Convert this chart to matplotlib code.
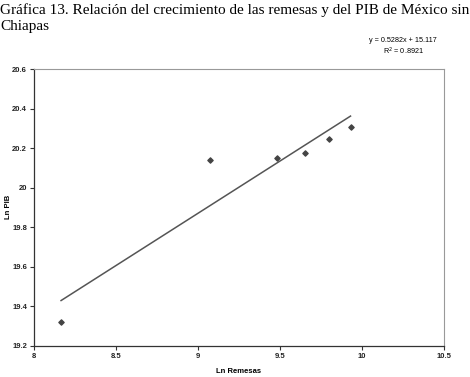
import matplotlib
matplotlib.use("Agg")
import matplotlib.pyplot as plt
import numpy as np
from matplotlib.ticker import FuncFormatter

ln_remesas = [8.165, 9.073, 9.48, 9.65, 9.80, 9.93]
ln_pib = [19.32, 20.14, 20.148, 20.177, 20.246, 20.305]
slope, intercept = 0.5282, 15.117
x_ticks = [8, 8.5, 9, 9.5, 10, 10.5]
y_ticks = [19.2, 19.4, 19.6, 19.8, 20, 20.2, 20.4, 20.6]

fig = plt.figure(figsize=(4.7, 3.77), dpi=100)
ax = fig.add_axes([34/470, 31/377, 410/470, 277/377])

ax.scatter(ln_remesas, ln_pib, marker='D', s=7, color='#444444', zorder=3)
xl = np.array([min(ln_remesas), max(ln_remesas)])
ax.plot(xl, slope*xl + intercept, color='#555555', lw=1.1)

ax.set_xlim(8, 10.5)
ax.set_ylim(19.2, 20.6)
ax.set_xticks(x_ticks)
ax.set_yticks(y_ticks)
fmt = FuncFormatter(lambda v, p: f"{v:g}")
ax.xaxis.set_major_formatter(fmt)
ax.yaxis.set_major_formatter(fmt)
ax.tick_params(direction='out', length=3, width=0.8, labelsize=5.5, color='#333333', pad=2)
for lab in ax.get_xticklabels() + ax.get_yticklabels():
    lab.set_fontfamily('Liberation Sans')
    lab.set_fontweight('bold')
    lab.set_color('#222222')
for s in ['left', 'bottom']:
    ax.spines[s].set_color('#333333')
    ax.spines[s].set_linewidth(0.9)
for s in ['top', 'right']:
    ax.spines[s].set_color('#999999')
    ax.spines[s].set_linewidth(0.8)

ax.set_xlabel('Ln Remesas', fontsize=5.5, fontweight='bold', family='Liberation Sans', labelpad=6)
fig.text(8/470, 1 - 207/377, 'Ln PIB', rotation=90, ha='center', va='center',
         fontsize=5.5, fontweight='bold', family='Liberation Sans')

fig.text(0.0, 1 - 3/377, 'Gráfica 13. Relación del crecimiento de las remesas y del PIB de México sin\nChiapas',
         ha='left', va='top', family='Liberation Serif', fontsize=11, linespacing=1.35)
fig.text(403/470, 1 - 41/377, f'y = {slope}x + {intercept}', ha='center', va='center',
         family='Liberation Sans', fontsize=5.2)
fig.text(403/470, 1 - 51/377, 'R$^2$ = 0.8921', ha='center', va='center',
         family='Liberation Sans', fontsize=5.2)

fig.savefig('out.png', dpi=100)
